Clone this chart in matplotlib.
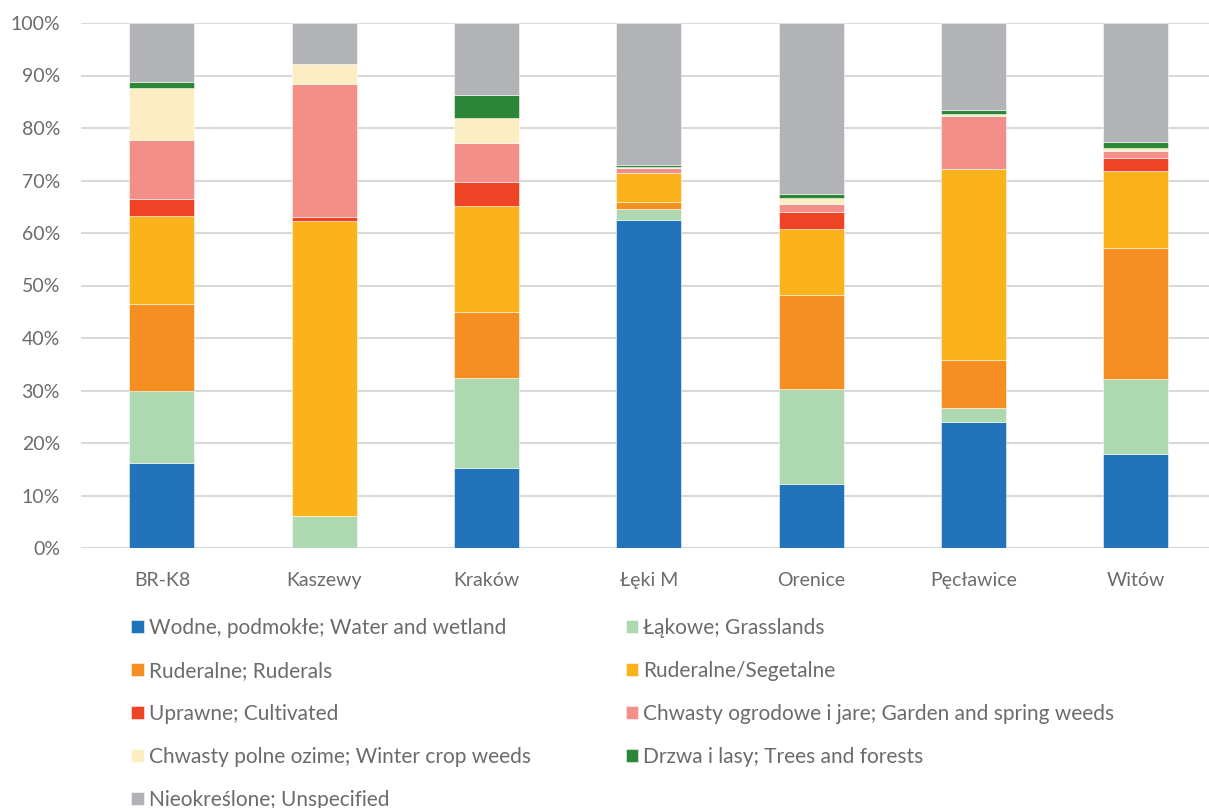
import numpy as np
import matplotlib
matplotlib.use("Agg")
import matplotlib.pyplot as plt
from matplotlib.ticker import PercentFormatter

plt.rcParams['font.family'] = ['Lato', 'DejaVu Sans']

# stanowiska
sites = ['BR-K8', 'Kaszewy', 'Kraków', 'Łęki M', 'Orenice', 'Pęcławice', 'Witów']

# udział grup siedliskowych (%)
water = [16.25, 0.0, 15.2, 62.5, 12.25, 24.0, 17.85]
grass = [13.75, 6.1, 17.1, 2.1, 18.05, 2.7, 14.35]
ruderal = [16.4, 0.0, 12.6, 1.4, 17.95, 9.2, 24.9]
rud_seg = [16.8, 56.1, 20.2, 5.4, 12.55, 36.35, 14.8]
cultivated = [3.3, 0.8, 4.7, 0.0, 3.2, 0.0, 2.4]
garden = [11.2, 25.4, 7.3, 1.0, 1.6, 10.1, 1.4]
winter = [10.0, 3.7, 4.9, 0.2, 1.1, 0.35, 0.55]
trees = [1.1, 0.0, 4.2, 0.35, 0.7, 0.8, 1.05]
unspec = [11.2, 7.9, 13.8, 27.05, 32.6, 16.5, 22.7]

series = [
    ('Wodne, podmokłe; Water and wetland', water, '#2373BB'),
    ('Łąkowe; Grasslands', grass, '#AED9B0'),
    ('Ruderalne; Ruderals', ruderal, '#F68F21'),
    ('Ruderalne/Segetalne', rud_seg, '#FBB31B'),
    ('Uprawne; Cultivated', cultivated, '#EE4324'),
    ('Chwasty ogrodowe i jare; Garden and spring weeds', garden, '#F28F89'),
    ('Chwasty polne ozime; Winter crop weeds', winter, '#FDEDC3'),
    ('Drzwa i lasy; Trees and forests', trees, '#2C8638'),
    ('Nieokreślone; Unspecified', unspec, '#B2B3B6'),
]

W, H = 1209, 808
fig = plt.figure(figsize=(W / 100, H / 100), dpi=100)
ax = fig.add_axes([80.75 / W, 1 - 548 / H, (1217 - 80.75) / W, (548 - 23) / H])

x = np.arange(len(sites))
bottom = np.zeros(len(sites))
handles = []
for name, vals, col in series:
    v = np.array(vals)
    b = ax.bar(x, v, width=0.4, bottom=bottom, color=col, label=name,
               edgecolor=(1, 1, 1, 0.6), linewidth=0.6, zorder=3)
    handles.append(b)
    bottom += v

ax.set_xlim(-0.5, len(sites) - 0.5)
ax.set_ylim(0, 100)
ax.set_yticks(np.arange(0, 101, 10))
ax.yaxis.set_major_formatter(PercentFormatter(decimals=0))
ax.set_xticks(x)
ax.set_xticklabels(sites)
ax.grid(axis='y', color='#D9D9D9', linewidth=1.5, zorder=0)
for s in ax.spines.values():
    s.set_visible(False)
ax.tick_params(axis='both', length=0, labelsize=14, labelcolor='#6B6B6B')
ax.tick_params(axis='y', pad=15)
ax.tick_params(axis='x', pad=17)

# legenda w dwóch kolumnach, kolejność wierszami
order = [0, 2, 4, 6, 8, 1, 3, 5, 7]
leg = fig.legend([handles[i] for i in order], [series[i][0] for i in order],
                 ncol=2, loc='upper left', bbox_to_anchor=(131 / W, 1 - 618 / H),
                 frameon=False, fontsize=15, handlelength=0.6, handleheight=0.6,
                 handletextpad=0.25, labelspacing=1.1, columnspacing=4.55,
                 borderaxespad=0, borderpad=0)
for t in leg.get_texts():
    t.set_color('#6B6B6B')

fig.savefig('out.png', dpi=100)
